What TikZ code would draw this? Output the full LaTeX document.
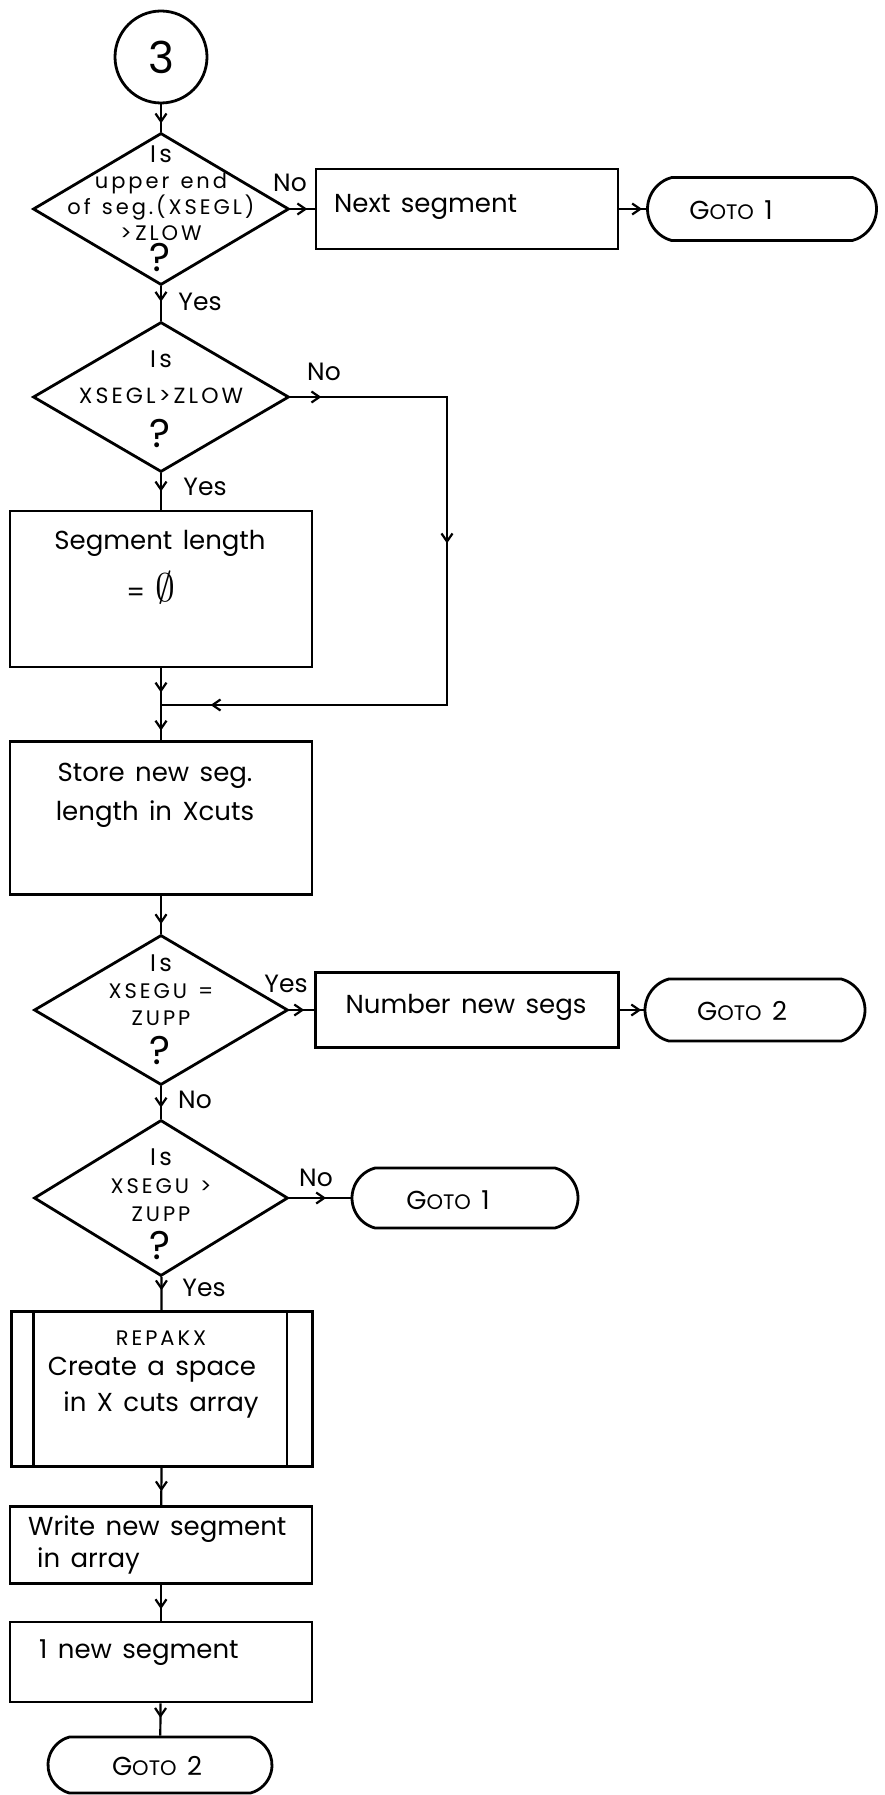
\documentclass[tikz,border=0pt]{standalone}
\usepackage{fontspec}
\setmainfont{Poppins}[WordSpace=1.5]
\newfontfamily\capsfont{Poppins}[LetterSpace=14, WordSpace=1.3]
\usetikzlibrary{shapes.geometric,shapes.misc,arrows.meta,decorations.markings}

\newcommand{\goto}[1]{G{\fontsize{21}{21}\selectfont OTO} #1}
\newcommand{\isword}{{\fontsize{24}{24}\selectfont Is}}

\begin{document}
\begin{tikzpicture}[x=1pt,y=-1pt,
  every node/.style={font=\fontsize{26}{30}\selectfont},
  outline/.style={draw, line width=2.8pt, inner sep=0pt},
  proc/.style={outline, rectangle, minimum width=302pt},
  dia/.style={outline, diamond, minimum width=256pt, minimum height=152pt},
  term/.style={outline, rounded rectangle, rounded rectangle arc length=150},
  conn/.style={line width=2.2pt},
  tipat/.style={postaction={decorate,decoration={markings,
      mark=at position #1 with {\arrow{Straight Barb[length=8pt,width=11pt]}}}}},
  lbl/.style={inner sep=0pt, font=\fontsize{25}{25}\selectfont},
  dtxt/.style={inner sep=0pt, align=center},
  qmark/.style={inner sep=0pt, font=\fontsize{40}{40}\selectfont},
  btxt/.style={inner sep=0pt},
]
\useasboundingbox (0,0) rectangle (884,1795);

% ---- start connector and first test
\node[outline, circle, minimum size=92pt, font=\fontsize{44}{44}\selectfont] (c3) at (161,57) {3};
\node[dia] (d1) at (161,209) {};
\node[dtxt, font=\capsfont\fontsize{21}{26}\selectfont] (d1t) at (161,193)
  {\isword\\upper end\\of seg.(XSEGL)\\>\,ZLOW};
\node[qmark] (q1) at (160,258) {?};
\node[proc, minimum height=80pt] (b1) at (467,209) {};
\node[btxt, anchor=west] (b1t) at (334,207) {Next segment};
\node[term, minimum width=229pt, minimum height=63pt] (t1) at (762,209) {};
\node[btxt] (t1t) at (731,210) {\goto{1}};
\node[lbl] (l1) at (290,183) {No};
\node[lbl] (l2) at (200,302) {Yes};

% ---- second test and the zero-length branch
\node[dia, minimum height=150pt] (d2) at (161,397) {};
\node[dtxt, font=\capsfont\fontsize{22}{36}\selectfont] (d2t) at (161,377)
  {\isword\\XSEGL>ZLOW};
\node[qmark] (q2) at (160,433) {?};
\node[lbl] (l3) at (324,372) {No};
\node[lbl] (l4) at (205,487) {Yes};
\node[proc, minimum height=156pt] (b2) at (161,589) {};
\node[btxt] (b2a) at (160,543) {Segment length};
\node[btxt] (b2b) at (151,588) {= \scalebox{1.6}{$\emptyset$}};
\coordinate (rtop) at (447,397);
\coordinate (rbot) at (447,705);
\coordinate (m) at (161,705);

\node[proc, minimum height=153pt] (b3) at (161,818) {};
\node[btxt] (b3a) at (155,776) {Store new seg.};
\node[btxt] (b3b) at (155,814) {length in Xcuts};

% ---- upper end tests
\node[dia, minimum width=254pt, minimum height=150pt] (d3) at (161,1010) {};
\node[dtxt, font=\capsfont\fontsize{21}{27}\selectfont] (d3t) at (161,990)
  {\isword\\XSEGU =\\ZUPP};
\node[qmark] (q3) at (160,1050) {?};
\node[lbl] (l5) at (286,984) {Yes};
\node[proc, minimum width=303pt, minimum height=75pt] (b4) at (467,1010) {};
\node[btxt] (b4t) at (466,1007) {Number new segs};
\node[term, minimum width=220pt, minimum height=62pt] (t2) at (755,1010) {};
\node[btxt] (t2t) at (742,1011) {\goto{2}};
\node[lbl] (l6) at (195,1100) {No};

\node[dia, minimum width=254pt, minimum height=156pt] (d4) at (161,1198) {};
\node[dtxt, font=\capsfont\fontsize{21}{28}\selectfont] (d4t) at (161,1185)
  {\isword\\XSEGU >\\ZUPP};
\node[qmark] (q4) at (160,1245) {?};
\node[lbl] (l7) at (316,1178) {No};
\node[term, minimum width=226pt, minimum height=60pt] (t3) at (465,1198) {};
\node[btxt] (t3t) at (448,1200) {\goto{1}};
\node[lbl] (l8) at (204,1288) {Yes};

% ---- subroutine and final steps
\node[proc, minimum width=301pt, minimum height=155pt] (b5) at (162,1389) {};
\draw[line width=2.8pt] ([xshift=23pt]b5.north west) -- ([xshift=23pt]b5.south west);
\draw[line width=2.8pt] ([xshift=-27pt]b5.north east) -- ([xshift=-27pt]b5.south east);
\node[btxt, font=\capsfont\fontsize{21}{21}\selectfont] (b5a) at (161,1338) {REPAKX};
\node[btxt] (b5b) at (152,1370) {Create a space};
\node[btxt] (b5c) at (161,1405) {in X cuts array};

\node[proc, minimum height=77pt] (b6) at (161,1545) {};
\node[btxt, anchor=west] (b6a) at (28,1529) {Write new segment};
\node[btxt, anchor=west] (b6b) at (37,1561) {in array};

\node[proc, minimum height=80pt] (b7) at (161,1662) {};
\node[btxt, anchor=west] (b7t) at (39,1653) {1 new segment};

\node[term, minimum width=224pt, minimum height=56pt] (t4) at (160,1765) {};
\node[btxt] (t4t) at (157,1766) {\goto{2}};

% ---- connectors
\draw[conn, tipat=0.7] (c3) -- (d1);
\draw[conn, tipat=0.7] (d1) -- (b1);
\draw[conn, tipat=0.85] (b1) -- (t1);
\draw[conn, tipat=0.45] (d1) -- (d2);
\draw[conn, tipat=0.5] (d2) -- (b2);
\draw[conn, tipat=31pt, tipat=303pt, tipat=701pt] (d2.east) -- (rtop) -- (rbot) -- (m);
\draw[conn, tipat=0.66] (b2) -- (m);
\draw[conn, tipat=0.73] (m) -- (b3);
\draw[conn, tipat=0.75] (b3) -- (d3);
\draw[conn, tipat=0.6] (d3) -- (b4);
\draw[conn, tipat=0.9] (b4) -- (t2);
\draw[conn, tipat=0.66] (d3) -- (d4);
\draw[conn, tipat=0.6] (d4) -- (t3);
\draw[conn, tipat=0.4] (d4) -- (b5);
\draw[conn, tipat=0.63] (b5) -- (b6);
\draw[conn, tipat=0.68] (b6) -- (b7);
\draw[conn, tipat=0.45] (b7) -- (t4);
\end{tikzpicture}
\end{document}
